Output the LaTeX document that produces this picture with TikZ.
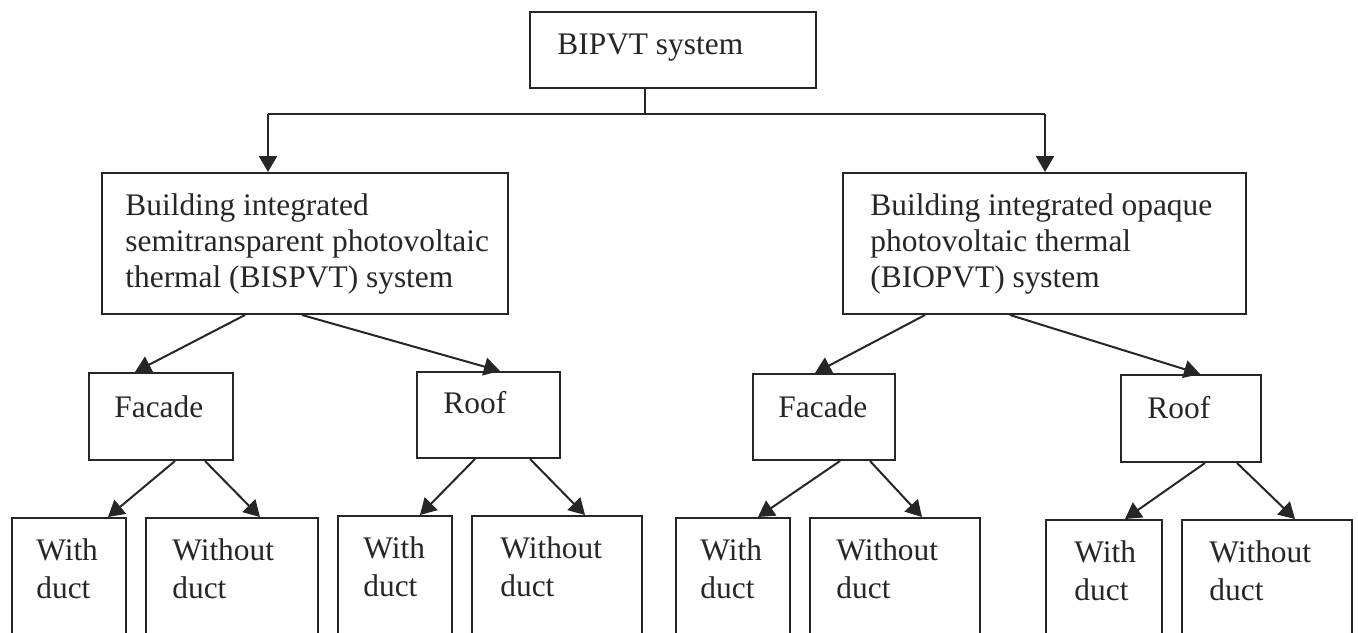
\documentclass[tikz,border=0pt]{standalone}
\usepackage{fontspec}
\setmainfont{Liberation Serif}
\usetikzlibrary{arrows.meta}
\begin{document}
\begin{tikzpicture}[x=0.5pt,y=-0.5pt,
  box/.style={draw=black!85, line width=1pt, inner sep=0pt},
  conn/.style={draw=black!85, line width=1pt},
  arr/.style={draw=black!85, line width=1pt, -{Triangle[length=8pt,width=9pt]}},
  lbl/.style={anchor=base west, inner sep=0pt, text=black!85, font=\fontsize{15.7}{18}\selectfont}]
\useasboundingbox (0,0) rectangle (1358,632);
\clip (0,0) rectangle (1358,632);
% boxes
\node[box, minimum width=143pt, minimum height=38pt] (top) at (673,50) {};
\node[box, minimum width=203pt, minimum height=70.5pt] (bispvt) at (305,243.5) {};
\node[box, minimum width=201.5pt, minimum height=70.5pt] (biopvt) at (1044.5,243.5) {};
\node[box, minimum width=72pt, minimum height=43.5pt] (facL) at (161,416.5) {};
\node[box, minimum width=71.5pt, minimum height=43pt] (roofL) at (488.5,415) {};
\node[box, minimum width=71pt, minimum height=43pt] (facR) at (824,417) {};
\node[box, minimum width=70pt, minimum height=43.5pt] (roofR) at (1191,418.5) {};
\node[box, minimum width=57pt, minimum height=90pt] (w1) at (69,608) {};
\node[box, minimum width=86pt, minimum height=90pt] (wo1) at (232,608) {};
\node[box, minimum width=57pt, minimum height=90pt] (w2) at (395,606) {};
\node[box, minimum width=85pt, minimum height=90pt] (wo2) at (557,606) {};
\node[box, minimum width=57pt, minimum height=90pt] (w3) at (733,608) {};
\node[box, minimum width=85pt, minimum height=90pt] (wo3) at (895,608) {};
\node[box, minimum width=58pt, minimum height=90pt] (w4) at (1104,610) {};
\node[box, minimum width=85pt, minimum height=90pt] (wo4) at (1267,610) {};
% texts
\node[lbl] (ttop) at (557,54) {BIPVT system};
\node[lbl] (ts1) at (125,215) {Building integrated};
\node[lbl] (ts2) at (125,251) {semitransparent photovoltaic};
\node[lbl] (ts3) at (125,287) {thermal (BISPVT) system};
\node[lbl] (to1) at (870,215) {Building integrated opaque};
\node[lbl] (to2) at (870,251) {photovoltaic thermal};
\node[lbl] (to3) at (870,287) {(BIOPVT) system};
\node[lbl] (tfL) at (114,417) {Facade};
\node[lbl] (trL) at (443,413) {Roof};
\node[lbl] (tfR) at (778,417) {Facade};
\node[lbl] (trR) at (1147,418) {Roof};
\node[lbl] (tw1a) at (36,560) {With};
\node[lbl] (tw1b) at (36,598) {duct};
\node[lbl] (two1a) at (172,560) {Without};
\node[lbl] (two1b) at (172,598) {duct};
\node[lbl] (tw2a) at (363,558) {With};
\node[lbl] (tw2b) at (363,596) {duct};
\node[lbl] (two2a) at (500,558) {Without};
\node[lbl] (two2b) at (500,596) {duct};
\node[lbl] (tw3a) at (700,560) {With};
\node[lbl] (tw3b) at (700,598) {duct};
\node[lbl] (two3a) at (836,560) {Without};
\node[lbl] (two3b) at (836,598) {duct};
\node[lbl] (tw4a) at (1074,562) {With};
\node[lbl] (tw4b) at (1074,600) {duct};
\node[lbl] (two4a) at (1209,562) {Without};
\node[lbl] (two4b) at (1209,600) {duct};
% connectors
\coordinate (j) at (645,114);
\coordinate (jl) at (268,114);
\coordinate (jr) at (1045,114);
\draw[conn] (645,0 |- top.south) -- (j);
\draw[conn] (jl) -- (jr);
\draw[arr] (jl) -- (268,0 |- bispvt.north);
\draw[arr] (jr) -- (1045,0 |- biopvt.north);
\draw[arr] (245,0 |- bispvt.south) -- (135,0 |- facL.north);
\draw[arr] (302,0 |- bispvt.south) -- (500,0 |- roofL.north);
\draw[arr] (925,0 |- biopvt.south) -- (815,0 |- facR.north);
\draw[arr] (1010,0 |- biopvt.south) -- (1200,0 |- roofR.north);
\draw[arr] (175,0 |- facL.south) -- (108,0 |- w1.north);
\draw[arr] (205,0 |- facL.south) -- (260,0 |- wo1.north);
\draw[arr] (475,0 |- roofL.south) -- (420,0 |- w2.north);
\draw[arr] (530,0 |- roofL.south) -- (585,0 |- wo2.north);
\draw[arr] (840,0 |- facR.south) -- (758,0 |- w3.north);
\draw[arr] (870,0 |- facR.south) -- (922,0 |- wo3.north);
\draw[arr] (1205,0 |- roofR.south) -- (1125,0 |- w4.north);
\draw[arr] (1237,0 |- roofR.south) -- (1295,0 |- wo4.north);
\end{tikzpicture}
\end{document}
